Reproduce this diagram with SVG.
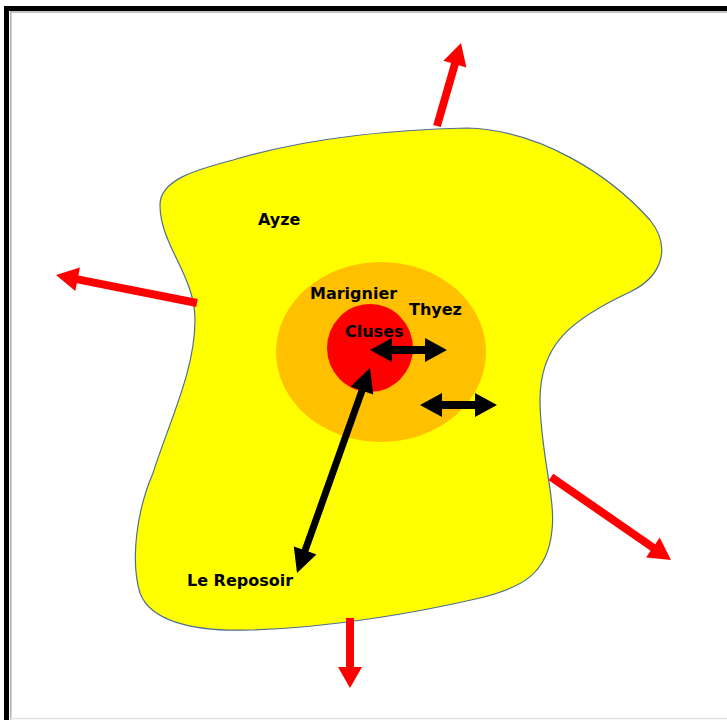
<svg xmlns="http://www.w3.org/2000/svg" width="727" height="720" viewBox="0 0 727 720">
<style>
.lbl{font-family:"DejaVu Sans","Liberation Sans",sans-serif;font-weight:bold;font-size:16px;fill:#000}
.red{fill:#ff0000}
.blk{fill:#000}
</style>
<rect x="0" y="0" width="727" height="720" fill="#fff"/>
<g id="frame">
<line x1="6.5" y1="6" x2="6.5" y2="720" stroke="#000" stroke-width="5"/>
<line x1="4" y1="8.5" x2="727" y2="8.5" stroke="#000" stroke-width="5"/>
<line x1="10.8" y1="11.5" x2="10.8" y2="720" stroke="#b0b0b0" stroke-width="1.5"/>
<line x1="10" y1="12" x2="727" y2="12" stroke="#b0b0b0" stroke-width="1.5"/>
<line x1="10" y1="718.5" x2="727" y2="718.5" stroke="#e4e4e4" stroke-width="1.5"/>
</g>
<g id="region-outer">
<path d="M233,160 C300,140 380,130 467,128 C540,130 610,175 650,220 C670,245 665,275 630,292 C570,320 540,345 540,400 C540,450 556,500 552,530 C548,575 520,588 480,598 C420,612 330,628 250,630 C190,632 150,620 140,593 C130,560 137,510 153,473 C170,420 195,370 195,320 C195,275 160,245 160,205 C160,180 195,170 233,160 Z" fill="#ffff00" stroke="#4f6f93" stroke-width="1.2"/>
</g>
<g id="region-middle">
<ellipse cx="381" cy="352" rx="105" ry="90" fill="#ffc000"/>
</g>
<g id="region-center">
<ellipse cx="370" cy="348" rx="43" ry="44" fill="#ff0000"/>
</g>
<g id="connectors">
<polygon class="red" points="440.8,127.1 458.7,65.2 466.4,67.4 461,43 443.4,60.8 451.1,63.0 433.2,124.9"/>
<polygon class="red" points="197.8,299.1 78.4,275.4 79.9,267.5 56,275 75.3,291.1 76.8,283.2 196.2,306.9"/>
<polygon class="red" points="548.7,480.3 650.6,550.8 646.1,557.4 671,560 659.7,537.6 655.2,544.2 553.3,473.7"/>
<polygon class="red" points="346,618 346,667 338,667 350,688 362,667 354,667 354,618"/>
<polygon class="blk" points="370,350 392,338 392,346 425,346 425,338 447,350 425,362 425,354 392,354 392,362"/>
<polygon class="blk" points="420,405 442,393 442,401 475,401 475,393 497,405 475,417 475,409 442,409 442,417"/>
<polygon class="blk" points="370,368 350.7,386.6 358.7,389.4 301.8,549.2 293.8,546.4 297,573 316.4,554.4 308.4,551.6 365.3,391.8 373.3,394.6"/>
</g>
<g id="label-ayze"><text class="lbl" x="258" y="225">Ayze</text></g>
<g id="label-marignier"><text class="lbl" x="310" y="299">Marignier</text></g>
<g id="label-thyez"><text class="lbl" x="409" y="315">Thyez</text></g>
<g id="label-cluses"><text class="lbl" x="345" y="337">Cluses</text></g>
<g id="label-reposoir"><text class="lbl" x="187" y="586">Le Reposoir</text></g>
</svg>
